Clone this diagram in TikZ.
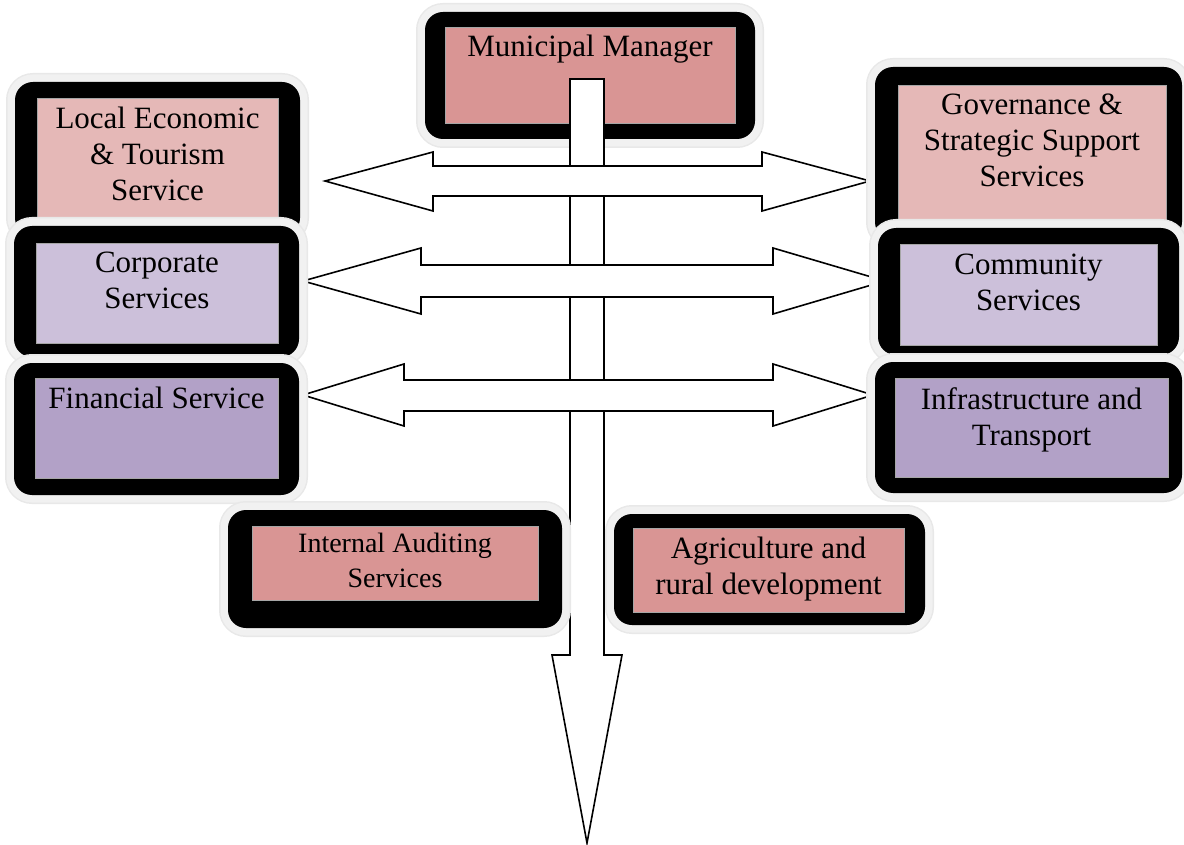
\documentclass[tikz,border=0pt]{standalone}
\usepackage{fontspec}
\setmainfont{Liberation Serif}
\usepackage{xcolor}
\usepackage{tikz}
\usetikzlibrary{positioning}

\definecolor{rosedeep}{HTML}{D99594}
\definecolor{roselight}{HTML}{E5B8B7}
\definecolor{lilaclight}{HTML}{CCC0DA}
\definecolor{lilacdeep}{HTML}{B2A1C7}
\definecolor{glow}{HTML}{F1F1F1}

\begin{document}
\begin{tikzpicture}[
    x=1pt, y=-1pt,
    frame/.style={rectangle, fill=black, rounded corners=18pt, inner sep=0pt, outer sep=0pt,
        preaction={draw=black!9, line width=18pt}, preaction={draw=glow, line width=15pt}},
    cell/.style={rectangle, draw=black!35, line width=0.6pt, inner sep=0pt, outer sep=0pt},
    txt/.style={font=\fontsize{31}{36}\selectfont, align=center, inner sep=0pt},
    blockarrow/.style={draw=black, fill=white, line width=1.6pt, line join=miter}
]
\useasboundingbox (0,0) rectangle (1184,845);

% Top box
\node[frame, minimum width=330, minimum height=127] (mmframe) at (590,75.5) {};
\node[cell, fill=rosedeep, minimum width=290, minimum height=96] (mm) at (590,75) {};
\node[txt, below=8pt of mm.north] (mmtxt) {Municipal Manager};

% Main arrow down
\draw[blockarrow] (570,79) -- (604,79) -- (604,655) -- (622,655) -- (587,843)
    -- (552,655) -- (570,655) -- cycle;

% Double arrows
\draw[blockarrow] (325,181) -- (433,152) -- (433,166) -- (762,166) -- (762,152) -- (870,181)
    -- (762,211) -- (762,196) -- (433,196) -- (433,211) -- cycle;
\draw[blockarrow] (303,281) -- (421,248) -- (421,265) -- (773,265) -- (773,248) -- (885,281)
    -- (773,314) -- (773,297) -- (421,297) -- (421,314) -- cycle;
\draw[blockarrow] (303,395) -- (404,364) -- (404,380) -- (773,380) -- (773,364) -- (873,395)
    -- (773,426) -- (773,411) -- (404,411) -- (404,426) -- cycle;

% Left column
\node[frame, minimum width=285, minimum height=154] (leframe) at (157.5,159) {};
\node[cell, fill=roselight, minimum width=241, minimum height=124] (le) at (157.5,160) {};
\node[txt, below=9pt of le.north] (letxt) {Local Economic\\\& Tourism\\Service};

\node[frame, minimum width=285, minimum height=131] (corpframe) at (156.5,291.5) {};
\node[cell, fill=lilaclight, minimum width=242, minimum height=100] (corp) at (157,293) {};
\node[txt, below=9pt of corp.north] (corptxt) {Corporate\\Services};

\node[frame, minimum width=285, minimum height=132] (finframe) at (156.5,429) {};
\node[cell, fill=lilacdeep, minimum width=243, minimum height=100] (fin) at (156.5,428) {};
\node[txt, below=9pt of fin.north] (fintxt) {Financial Service};

% Right column
\node[frame, minimum width=307, minimum height=173] (govframe) at (1028.5,153.5) {};
\node[cell, fill=roselight, minimum width=268, minimum height=141] (gov) at (1032,155.5) {};
\node[txt, below=9pt of gov.north] (govtxt) {Governance \&\\Strategic Support\\Services};

\node[frame, minimum width=301, minimum height=127] (commframe) at (1028.5,291.5) {};
\node[cell, fill=lilaclight, minimum width=257, minimum height=101] (comm) at (1028.5,294.5) {};
\node[txt, below=10pt of comm.north] (commtxt) {Community\\Services};

\node[frame, minimum width=307, minimum height=131] (infraframe) at (1028.5,427.5) {};
\node[cell, fill=lilacdeep, minimum width=273, minimum height=99] (infra) at (1031.5,427.5) {};
\node[txt, below=9pt of infra.north] (infratxt) {Infrastructure and\\Transport};

% Bottom pair
\node[frame, minimum width=334, minimum height=118] (iaframe) at (395,569) {};
\node[cell, fill=rosedeep, minimum width=286, minimum height=74] (ia) at (395,563) {};
\node[txt, font=\fontsize{28}{35}\selectfont, below=7pt of ia.north] (iatxt) {Internal Auditing\\Services};

\node[frame, minimum width=311, minimum height=111] (agriframe) at (769.5,569.5) {};
\node[cell, fill=rosedeep, minimum width=271, minimum height=84] (agri) at (768.5,570) {};
\node[txt, below=9pt of agri.north] (agritxt) {Agriculture and\\rural development};
\end{tikzpicture}
\end{document}
